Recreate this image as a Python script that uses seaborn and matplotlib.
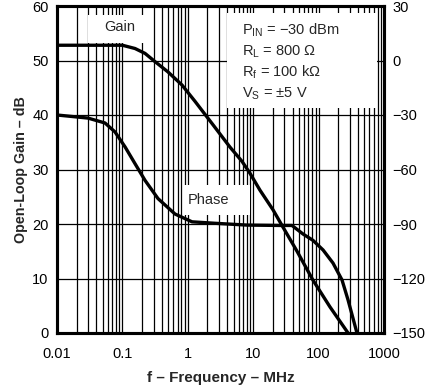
import numpy as np
import pandas as pd
import seaborn as sns
import matplotlib.pyplot as plt
from matplotlib.patches import Rectangle
from matplotlib.ticker import FixedLocator, LogLocator, NullFormatter

# open-loop gain (dB) vs frequency (MHz)
gain_freq = [0.01, 0.03, 0.06, 0.1, 0.156, 0.222, 0.315, 0.498, 0.815, 1.29, 2.43,
             4.42, 6.74, 8.94, 12.7, 20.1, 28.6, 46.8, 82.0, 149.0, 282.0]
gain_db = [52.8, 52.8, 52.8, 52.8, 52.2, 51.3, 49.8, 47.9, 45.5, 42.5, 38.2,
           34.1, 31.5, 29.3, 26.2, 22.6, 19.4, 15.0, 9.7, 4.8, 0.0]

# phase (degrees) vs frequency (MHz)
phase_freq = [0.01, 0.0298, 0.0542, 0.077, 0.11, 0.156, 0.222, 0.35, 0.637, 1.16, 2.6,
              8.0, 25.7, 39.2, 57.7, 82.0, 117.0, 166.0, 228.0, 282.0, 386.0]
phase_deg = [-30.0, -31.7, -34.4, -39.3, -47.6, -56.8, -66.0, -76.0, -84.5, -88.8, -89.6,
             -90.6, -90.8, -90.8, -95.5, -99.0, -104.3, -111.5, -120.8, -131.8, -150.0]

x_ticks = [0.01, 0.1, 1, 10, 100, 1000]
x_labels = ["0.01", "0.1", "1", "10", "100", "1000"]
gain_ticks = [0, 10, 20, 30, 40, 50, 60]
phase_ticks = [30, 0, -30, -60, -90, -120, -150]

params_text = [r"P$_\mathregular{IN}$ = −30 dBm",
               r"R$_\mathregular{L}$ = 800 Ω",
               r"R$_\mathregular{f}$ = 100 kΩ",
               r"V$_\mathregular{S}$ = ±5 V"]

sns.set_style("white")
plt.rcParams['font.family'] = ['Liberation Sans', 'DejaVu Sans']
plt.rcParams['mathtext.fontset'] = 'custom'
plt.rcParams['mathtext.rm'] = 'Liberation Sans'

gain_df = pd.DataFrame({'f': gain_freq, 'v': gain_db})
phase_df = pd.DataFrame({'f': phase_freq, 'v': phase_deg})

fig = plt.figure(figsize=(4.28, 3.89), dpi=100)
ax = fig.add_axes([57 / 428, 1 - 333 / 389, 327 / 428, 327 / 389])

ax.set_xscale('log')
ax.set_xlim(0.01, 1000)
ax.set_ylim(0, 60)
ax.xaxis.set_major_locator(FixedLocator(x_ticks))
ax.set_xticklabels(x_labels)
ax.xaxis.set_minor_locator(LogLocator(base=10, subs=range(2, 10), numticks=20))
ax.xaxis.set_minor_formatter(NullFormatter())
ax.set_yticks(gain_ticks)
ax.grid(which='both', axis='x', color='black', lw=0.9)
ax.grid(which='major', axis='y', color='black', lw=0.9)
ax.set_axisbelow(True)
ax.tick_params(which='both', length=0, labelsize=10.5, colors='black')
ax.tick_params(axis='x', pad=10)
ax.tick_params(axis='y', pad=6)

ax2 = ax.twinx()
ax2.set_ylim(-150, 30)
ax2.set_yticks(phase_ticks)
ax2.tick_params(length=0, labelsize=10.5, pad=6, colors='black')
ax2.grid(False)

# white label boxes hiding the grid
for (x0, y0, w, h) in [(0.095, 0.887, 0.199, 0.085),
                       (0.52, 0.688, 0.459, 0.291),
                       (0.385, 0.361, 0.205, 0.092)]:
    ax.add_patch(Rectangle((x0, y0), w, h, transform=ax.transAxes,
                           facecolor='white', edgecolor='none', zorder=1.5))

sns.lineplot(data=gain_df, x='f', y='v', ax=ax, color='black', lw=2.4, zorder=3)
sns.lineplot(data=phase_df, x='f', y='v', ax=ax2, color='black', lw=2.4, zorder=3)

ax.text(0.193, 0.936, "Gain", transform=ax.transAxes, ha='center', va='center', fontsize=10.5, zorder=4)
ax.text(0.462, 0.407, "Phase", transform=ax.transAxes, ha='center', va='center', fontsize=10.5, zorder=4)
for yy, t in zip([0.927, 0.859, 0.797, 0.733], params_text):
    ax.text(0.566, yy, t, transform=ax.transAxes, ha='left', va='center', fontsize=10.5, zorder=4)

for a in (ax, ax2):
    for s in a.spines.values():
        s.set_color('black')
        s.set_linewidth(2.2)

ax.set_xlabel("f – Frequency – MHz", fontsize=11, fontweight='bold', labelpad=7)
ax.set_ylabel("Open-Loop Gain – dB", fontsize=10.3, fontweight='bold', labelpad=3)
ax2.set_ylabel("Phase – °", fontsize=10.3, fontweight='bold')
ax2.yaxis.set_label_coords(1.145, 0.5)

fig.savefig("out.png", dpi=100)
